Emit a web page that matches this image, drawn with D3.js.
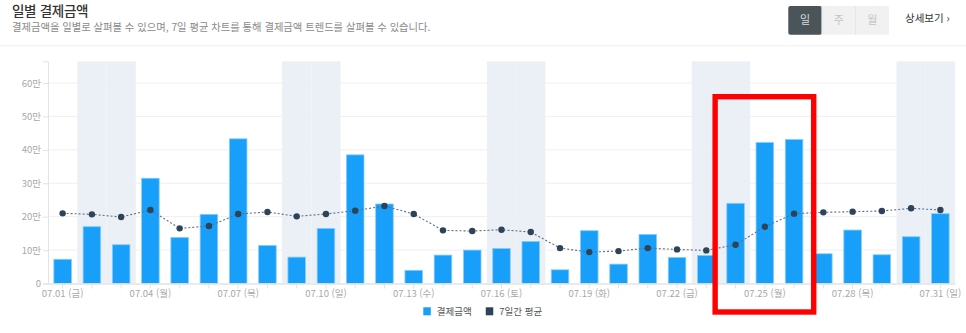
<!DOCTYPE html>
<html lang="ko">
<head>
<meta charset="utf-8">
<script src="https://cdn.jsdelivr.net/npm/d3@7"></script>
<style>
  html, body { margin: 0; padding: 0; background: #fff; }
  svg { display: block; font-family: "Noto Sans CJK KR", "Noto Sans", sans-serif; }
</style>
</head>
<body>
<svg id="chart" width="966" height="333"></svg>
<script>
// Daily dates (July) and weekday labels
const days = ["07.01","07.02","07.03","07.04","07.05","07.06","07.07","07.08","07.09","07.10",
              "07.11","07.12","07.13","07.14","07.15","07.16","07.17","07.18","07.19","07.20",
              "07.21","07.22","07.23","07.24","07.25","07.26","07.27","07.28","07.29","07.30","07.31"];
const weekdays = ["금","토","일","월","화","수","목","금","토","일",
                  "월","화","수","목","금","토","일","월","화","수",
                  "목","금","토","일","월","화","수","목","금","토","일"];

// Daily payment amount (원)
const amounts = [72500,170000,116000,315000,138000,207000,433000,114000,79000,165000,
                 385000,238000,39500,85000,100000,105000,126000,41000,158000,58000,
                 147000,78000,84000,240000,422000,431000,89000,160000,86000,140000,209000];

// 7-day average (원)
const avg7 = [210000,207000,199000,220000,165000,172000,208000,214000,201000,208000,
              218000,232000,208000,159000,157000,161000,154000,106000,94000,97000,
              106000,102000,99000,116000,170000,209000,213000,215000,217000,225000,220000];

const yTicks = [0,100000,200000,300000,400000,500000,600000];
const weekendDays = ["07.02","07.03","07.09","07.10","07.16","07.17","07.23","07.24","07.30","07.31"];
const xLabelEvery = 3;
const highlight = { from: "07.24", to: "07.26" };
const legendItems = [{ key: "결제금액", color: "#189ffa" }, { key: "7일간 평균", color: "#2d4358" }];
const periods = ["일", "주", "월"];

const svg = d3.select("#chart");
const W = 966, H = 333;
const plot = { left: 48, right: 955, top: 61.3, bottom: 283.5 };

// Header
svg.append("text").attr("x", 12).attr("y", 16.3)
  .attr("font-size", 13.5).attr("font-weight", 500).attr("fill", "#333")
  .attr("letter-spacing", -0.3)
  .text("일별 결제금액");
svg.append("text").attr("x", 12).attr("y", 30.6)
  .attr("font-size", 10.3).attr("fill", "#8a8a8a")
  .text("결제금액을 일별로 살펴볼 수 있으며, 7일 평균 차트를 통해 결제금액 트렌드를 살펴볼 수 있습니다.");

// Period toggle buttons
const btnW = 33.6, btnX = 788.3, btnY = 6, btnH = 28.7;
const btns = svg.append("g");
btns.append("rect").attr("x", btnX).attr("y", btnY).attr("width", btnW * 3).attr("height", btnH)
  .attr("rx", 2).attr("fill", "#f1f1f1");
periods.forEach((p, i) => {
  if (i === 0) {
    btns.append("rect").attr("x", btnX).attr("y", btnY).attr("width", btnW).attr("height", btnH)
      .attr("rx", 2).attr("fill", "#4b5559");
  } else {
    btns.append("line").attr("x1", btnX + btnW * i).attr("x2", btnX + btnW * i)
      .attr("y1", btnY).attr("y2", btnY + btnH).attr("stroke", "#e6e6e6");
  }
  btns.append("text").attr("x", btnX + btnW * i + btnW / 2).attr("y", btnY + btnH / 2 + 4)
    .attr("text-anchor", "middle").attr("font-size", 11)
    .attr("fill", i === 0 ? "#d8dcdd" : "#c4c4c4").text(p);
});
svg.append("text").attr("x", 905).attr("y", 22)
  .attr("font-size", 10.5).attr("fill", "#333").text("상세보기 ›");

// Header divider
svg.append("line").attr("x1", 0).attr("x2", W).attr("y1", 45.7).attr("y2", 45.7)
  .attr("stroke", "#f0f0f0");

// Scales
const x = d3.scaleBand().domain(days).range([plot.left, plot.right]).paddingInner(0.4).paddingOuter(0.2);
const xs = d3.scaleBand().domain(days).range([plot.left, plot.right]);
const y = d3.scaleLinear().domain([0, 665000]).range([plot.bottom, plot.top]);

// Weekend shading
svg.append("g").selectAll("rect").data(weekendDays).join("rect")
  .attr("x", d => xs(d)).attr("y", plot.top)
  .attr("width", xs.step()).attr("height", plot.bottom - plot.top)
  .attr("fill", "#ebf0f7");

// Horizontal grid
svg.append("g").selectAll("line").data(yTicks.slice(1)).join("line")
  .attr("x1", plot.left).attr("x2", plot.right)
  .attr("y1", d => y(d)).attr("y2", d => y(d))
  .attr("stroke", "#efefef");

// Y axis
const yAxis = d3.axisLeft(y).tickValues(yTicks).tickSize(5).tickSizeOuter(5)
  .tickFormat(d => d === 0 ? "0" : (d / 10000) + "만");
const gy = svg.append("g").attr("transform", `translate(${plot.left},0)`).call(yAxis);
gy.select(".domain").attr("stroke", "#e3e3e3");
gy.selectAll(".tick line").attr("stroke", "#e3e3e3");
gy.selectAll(".tick text").attr("fill", "#a8a8a8").attr("font-size", 9.5)
  .attr("font-family", "\"Noto Sans CJK KR\", sans-serif").attr("x", -7);

// Bars
svg.append("g").selectAll("rect").data(days).join("rect")
  .attr("x", d => x(d)).attr("width", x.bandwidth())
  .attr("y", (d, i) => y(amounts[i]))
  .attr("height", (d, i) => y(0) - y(amounts[i]))
  .attr("fill", "#189ffa")
  .attr("stroke", "#86cdfc").attr("stroke-width", 0.8);

// X axis
const xAxis = d3.axisBottom(xs).tickSize(5).tickSizeOuter(0)
  .tickFormat((d, i) => i % xLabelEvery === 0 ? `${d} (${weekdays[i]})` : "");
const gx = svg.append("g").attr("transform", `translate(0,${plot.bottom})`).call(xAxis);
gx.select(".domain").attr("stroke", "#e3e3e3").attr("stroke-width", 1.5);
gx.selectAll(".tick line").attr("stroke", "#e3e3e3");
gx.selectAll(".tick text").attr("fill", "#a8a8a8").attr("font-size", 9.5)
  .attr("font-family", "\"Noto Sans CJK KR\", sans-serif").attr("y", 7);

// 7-day average line
const cx = d => xs(d) + xs.bandwidth() / 2;
const line = d3.line().x(d => cx(d)).y((d, i) => y(avg7[i])).curve(d3.curveLinear);
svg.append("path").datum(days).attr("d", line)
  .attr("fill", "none").attr("stroke", "#5f6f80").attr("stroke-width", 1.1)
  .attr("stroke-dasharray", "2,2");
svg.append("g").selectAll("circle").data(days).join("circle")
  .attr("cx", d => cx(d)).attr("cy", (d, i) => y(avg7[i])).attr("r", 3.2)
  .attr("fill", "#2d4358");

// Highlight box
const hx0 = xs(highlight.from) - 5.8;
const hx1 = xs(highlight.to) + xs.step() + 5;
svg.append("rect")
  .attr("x", hx0).attr("y", 96.7)
  .attr("width", hx1 - hx0).attr("height", 312 - 96.7)
  .attr("fill", "none").attr("stroke", "#ff0000").attr("stroke-width", 5.4);

// Legend
const legend = svg.append("g").attr("transform", "translate(423.3,307.3)");
let lx = 0;
legendItems.forEach(item => {
  const g = legend.append("g").attr("transform", `translate(${lx},0)`);
  g.append("rect").attr("width", 7.5).attr("height", 8).attr("fill", item.color);
  const t = g.append("text").attr("x", 13.5).attr("y", 7.6).attr("font-size", 9.5)
    .attr("fill", "#555").text(item.key);
  lx += 13.5 + t.node().getComputedTextLength() + 14;
});
</script>
</body>
</html>
